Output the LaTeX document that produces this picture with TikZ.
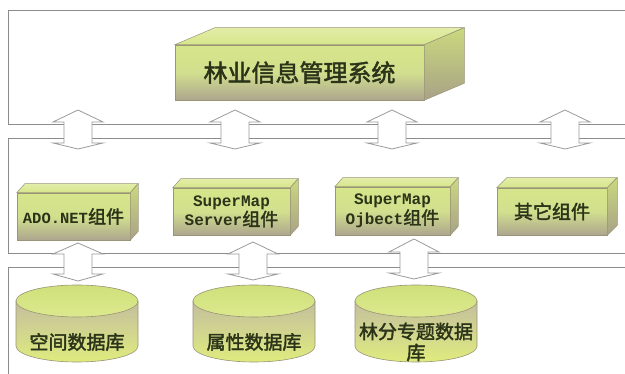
\documentclass[tikz,border=0pt]{standalone}
\usepackage{fontspec}
\setmonofont{Liberation Mono}
\newfontfamily\cjk[AutoFakeBold=2]{Noto Sans CJK SC}
\usetikzlibrary{calc}
\definecolor{framec}{HTML}{8C8C8C}
\definecolor{arrowc}{HTML}{9A9A9A}
\definecolor{edgec}{HTML}{9A9478}
\definecolor{limetop}{HTML}{D6E68A}
\definecolor{limemid}{HTML}{D2DF8E}
\definecolor{tanbot}{HTML}{ADA68E}
\definecolor{toplight}{HTML}{E2EDA8}
\definecolor{sidetop}{HTML}{CAD97E}
\definecolor{sidebot}{HTML}{A8A286}
\definecolor{cylside}{HTML}{C3BE9E}
\definecolor{cyllime}{HTML}{DFEC7E}
\definecolor{cyltopA}{HTML}{CFE07A}
\definecolor{cyltopB}{HTML}{DCE98E}
\definecolor{txtc}{HTML}{2B3418}
\newcommand\myArrow[6]{%
  \draw[dblarrow] (#2,#3) -- (#2+25,#4) -- (#2+14,#4) -- (#2+14,#5) -- (#2+25,#5) -- (#2,#6)
     -- (#2-25,#5) -- (#2-14,#5) -- (#2-14,#4) -- (#2-25,#4) -- cycle;
  \coordinate (#1) at (#2,#3);}
\newcommand\myBox[8]{%
  \node[boxfront, minimum width=#4pt, minimum height=#5pt] (#1) at (#2,#3) {#8};
  \path[boxtop] (#1.north west) -- ++(#6,-#7) -- ++(#4,0) -- (#1.north east) -- cycle;
  \path[boxside] (#1.north east) -- ++(#6,-#7) -- ([shift={(#6,-#7)}]#1.south east) -- (#1.south east) -- cycle;}
\newcommand\myCyl[4]{%
  \path[cylbody] (#2-61,301) -- (#2-61,346) arc[start angle=180,end angle=360,x radius=61pt,y radius=16pt] -- (#2+61,301) -- cycle;
  \path[cyltop] (#2,301) ellipse [x radius=61pt, y radius=16pt];
  \node[cyltext] (#1) at (#2,#4) {#3};}
\newcommand\mt[1]{{\ttfamily\bfseries\fontsize{16}{20}\selectfont #1}}
\newcommand\ct[1]{{\cjk\bfseries\fontsize{18}{20}\selectfont #1}}
\begin{document}
\begin{tikzpicture}[x=1pt,y=-1pt,
  frame/.style={draw=framec, line width=0.8pt},
  dblarrow/.style={draw=arrowc, fill=white, line width=0.8pt, line join=miter},
  boxfront/.style={draw=edgec, line width=0.5pt, inner sep=0pt, align=center, text=txtc,
     top color=limetop, bottom color=tanbot, middle color=limemid},
  boxtop/.style={draw=edgec, line width=0.5pt, top color=toplight, bottom color=limetop},
  boxside/.style={draw=edgec, line width=0.5pt, top color=sidetop, bottom color=sidebot},
  cylbody/.style={draw=edgec, line width=0.6pt, top color=cylside, bottom color=cyllime},
  cyltop/.style={draw=edgec, line width=0.6pt, top color=cyltopA, bottom color=cyltopB},
  cyltext/.style={align=center, text=txtc, inner sep=0pt, font=\cjk\bfseries\fontsize{19}{21}\selectfont}]
\useasboundingbox (0,0) rectangle (625,374);
\fill[white] (0,0) rectangle (625,374);
% panels
\draw[frame] (625,10) -- (8,10) -- (8,124) -- (625,124);
\draw[frame] (625,138) -- (8,138) -- (8,253) -- (625,253);
\draw[frame] (625,267) -- (8,267) -- (8,374);
% arrows row 1
\myArrow{a1}{78}{110}{122}{143}{149}
\myArrow{a2}{235}{110}{122}{143}{149}
\myArrow{a3}{392}{110}{122}{143}{149}
\myArrow{a4}{565}{110}{122}{143}{149}
% arrows row 2
\myArrow{b1}{78}{243}{254}{274}{281}
\myArrow{b2}{253}{242}{254}{274}{280}
\myArrow{b3}{414}{239}{252}{273}{279}
% top box
\myBox{sys}{299.5}{72.5}{249}{55}{40}{17}{{\cjk\bfseries\fontsize{24}{26}\selectfont 林业信息管理系统}}
% components
\myBox{ado}{73.5}{216.5}{113}{47}{8}{9}{{\ttfamily\bfseries\fontsize{15.5}{18}\selectfont ADO.NET}\ct{组件}}
\myBox{srv}{231.5}{211.5}{117}{47}{8}{9}{\mt{SuperMap}\\\mt{Server}\ct{组件}}
\myBox{obj}{392.5}{211}{115}{48}{8}{9}{\mt{SuperMap}\\\mt{Ojbect}\ct{组件}}
\myBox{oth}{552}{211.5}{110}{47}{10}{10}{{\cjk\bfseries\fontsize{19}{21}\selectfont 其它组件}}
% databases
\myCyl{db1}{77}{空间数据库}{342}
\myCyl{db2}{254}{属性数据库}{342}
\myCyl{db3}{416}{林分专题数据\\库}{342}
\end{tikzpicture}
\end{document}
